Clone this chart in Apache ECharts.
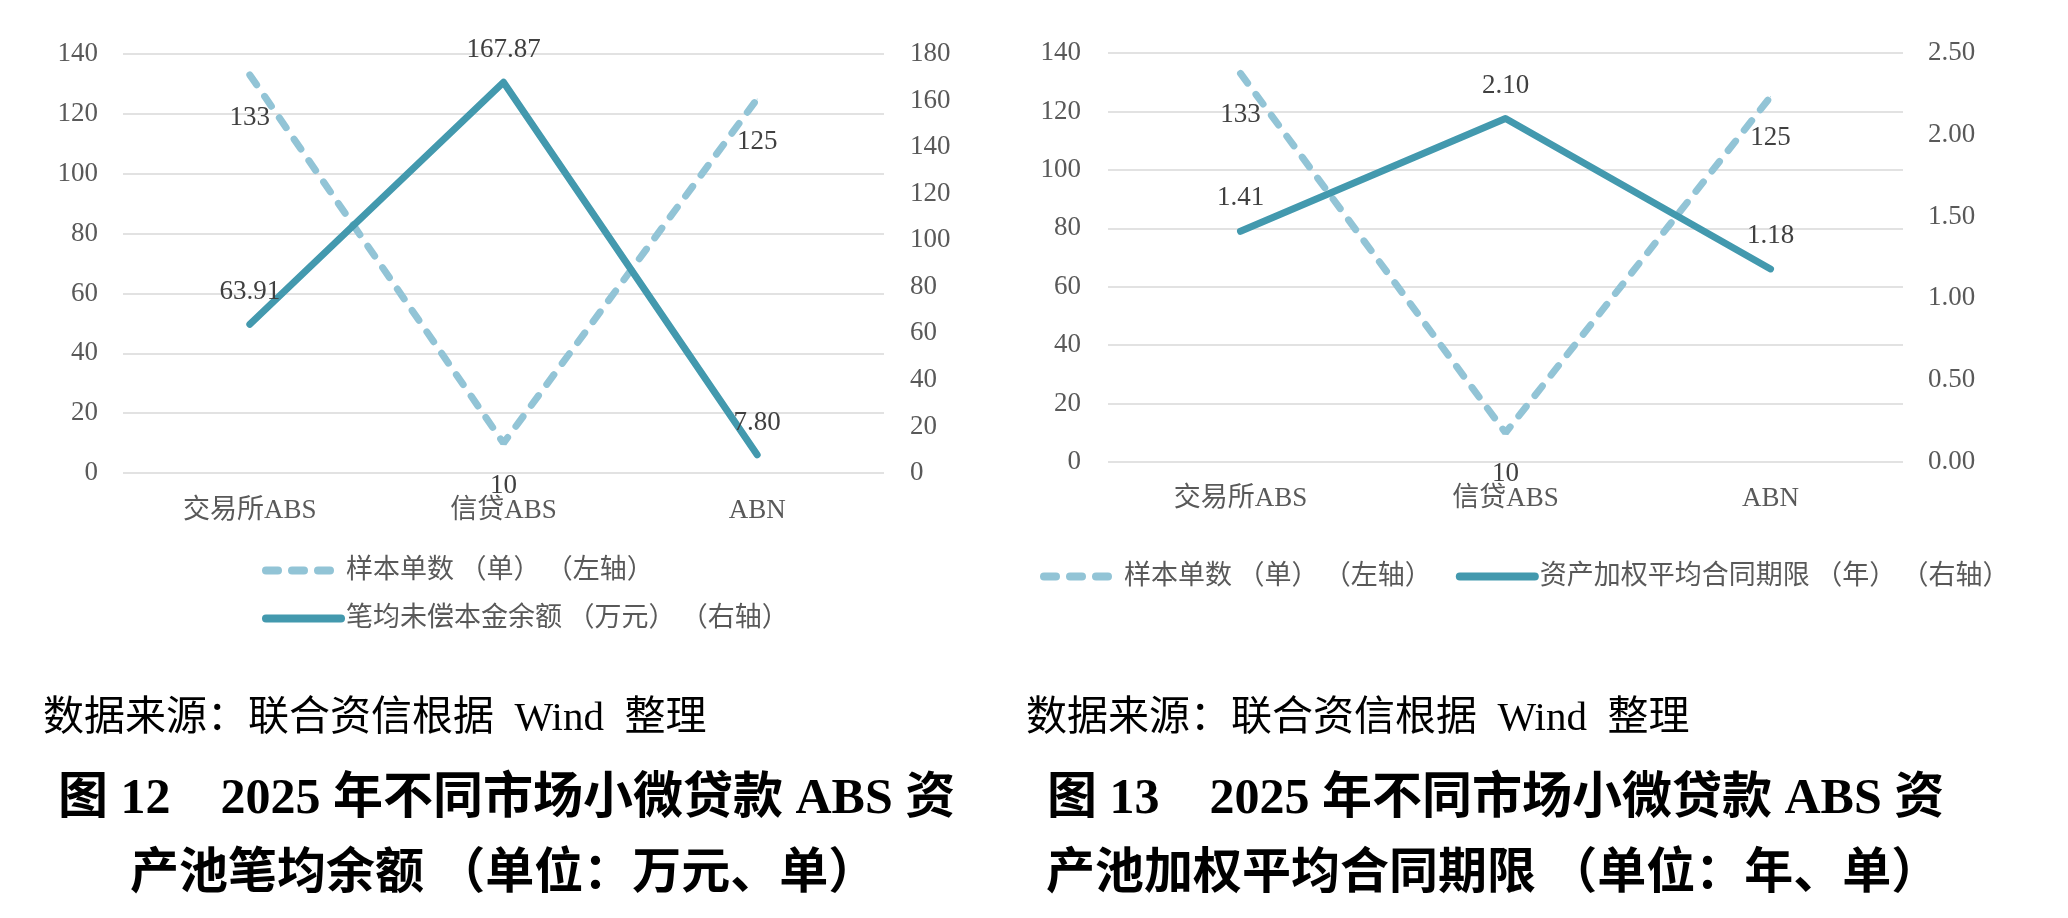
<!DOCTYPE html>
<html><head><meta charset="utf-8">
<script src="https://cdn.jsdelivr.net/npm/echarts@6/dist/echarts.min.js"></script>
<style>html,body{margin:0;padding:0;background:#fff}#c{width:2068px;height:918px}</style>
</head><body><div id="c"></div>
<script>
// ---- data ----
const categories = ['交易所ABS', '信贷ABS', 'ABN'];
const sampleCount = [133, 10, 125];            // 样本单数（单）
const avgBalance = [63.91, 167.87, 7.80];      // 笔均未偿本金余额（万元）
const avgTerm = [1.41, 2.10, 1.18];            // 资产加权平均合同期限（年）
const leftTicksL = [0, 140, 20];
const leftTicksR = [0, 180, 20];
const rightTicksL = [0, 140, 20];
const rightTicksR = [0, 2.5, 0.5];
const nameCount = '样本单数（单）（左轴）';
const nameBalance = '笔均未偿本金余额（万元）（右轴）';
const nameTerm = '资产加权平均合同期限（年）（右轴）';
const sourceText = '数据来源：联合资信根据\u2002Wind\u2002整理';
const title12 = ['图 12\u30002025 年不同市场小微贷款 ABS 资', '产池笔均余额\u2005（单位：万元、单）'];
const title13 = ['图 13\u30002025 年不同市场小微贷款 ABS 资', '产池加权平均合同期限\u2005（单位：年、单）'];

// ---- style ----
const FONT = "'Liberation Serif','Noto Sans CJK SC',serif";
const DASH_C = '#92C4D6', SOLID_C = '#4399AE';
const AXIS_C = '#595959', LABEL_C = '#404040';

const chart = echarts.init(document.getElementById('c'), null, {renderer: 'canvas'});

function yAxis(grid, t, pos, margin, split, fmt) {
  return {
    type: 'value', gridIndex: grid, position: pos, min: t[0], max: t[1], interval: t[2],
    axisLine: {show: false}, axisTick: {show: false},
    axisLabel: {margin: margin, fontSize: 27, color: AXIS_C, fontFamily: FONT, formatter: fmt},
    splitLine: {show: split, lineStyle: {color: '#E2E2E2', width: 2}}
  };
}
function xAxis(grid, margin) {
  return {
    type: 'category', gridIndex: grid, data: categories,
    axisLine: {show: false}, axisTick: {show: false},
    axisLabel: {margin: margin, fontSize: 27, color: AXIS_C, fontFamily: FONT}
  };
}
function dashed(xi, yi, dist) {
  return {
    type: 'line', name: nameCount, xAxisIndex: xi, yAxisIndex: yi, data: sampleCount,
    symbol: 'circle', symbolSize: 1, itemStyle: {color: DASH_C},
    lineStyle: {color: DASH_C, width: 7, type: [12, 14], cap: 'round'},
    label: {show: true, position: 'bottom', distance: dist, fontSize: 27, color: LABEL_C, fontFamily: FONT},
    z: 2
  };
}
function solid(name, data, xi, yi, dist) {
  return {
    type: 'line', name: name, xAxisIndex: xi, yAxisIndex: yi, data: data,
    symbol: 'circle', symbolSize: 1, itemStyle: {color: SOLID_C},
    lineStyle: {color: SOLID_C, width: 7, cap: 'round', join: 'round'},
    label: {show: true, position: 'top', distance: dist, fontSize: 27, color: LABEL_C, fontFamily: FONT,
      formatter: p => Number(p.value).toFixed(2)},
    z: 3
  };
}
function txt(x, y, text, font) {
  return {type: 'text', x: x, y: y, style: {text: text, font: font, fill: '#000',
    textAlign: 'left', textVerticalAlign: 'middle'}};
}
const legendFmt = n => n.replace(/（/g, '\u2009（');
const legendCommon = {
  itemWidth: 75, itemHeight: 14, selectedMode: false, itemStyle: {opacity: 0},
  lineStyle: {width: 8, cap: 'round'}, formatter: legendFmt,
  textStyle: {fontSize: 27, color: AXIS_C, fontFamily: FONT}
};

const option = {
  animation: false,
  backgroundColor: '#fff',
  grid: [
    {left: 123, top: 54, width: 761, height: 419},
    {left: 1108, top: 53, width: 795, height: 409}
  ],
  xAxis: [xAxis(0, 24), xAxis(1, 23)],
  yAxis: [
    yAxis(0, leftTicksL, 'left', 25, true),
    yAxis(0, leftTicksR, 'right', 26, false),
    yAxis(1, rightTicksL, 'left', 27, true),
    yAxis(1, rightTicksR, 'right', 25, false, v => v.toFixed(2))
  ],
  legend: [
    Object.assign({orient: 'vertical', left: 257, top: 552, itemGap: 21,
      data: [nameCount, nameBalance]}, legendCommon),
    Object.assign({orient: 'horizontal', left: 1035, top: 558, itemGap: 24,
      data: [nameCount, nameTerm]}, legendCommon)
  ],
  series: [
    dashed(0, 0, 29),
    solid(nameBalance, avgBalance, 0, 1, 18),
    dashed(1, 2, 27),
    solid(nameTerm, avgTerm, 1, 3, 19)
  ],
  graphic: [
    txt(43, 719, sourceText, '41px ' + FONT),
    txt(1026, 719, sourceText, '41px ' + FONT),
    txt(58, 800, title12[0], 'bold 50px ' + FONT),
    txt(130, 875, title12[1], 'bold 49px ' + FONT),
    txt(1047, 800, title13[0], 'bold 50px ' + FONT),
    txt(1046, 875, title13[1], 'bold 49px ' + FONT)
  ]
};
chart.setOption(option);
</script>
</body></html>
